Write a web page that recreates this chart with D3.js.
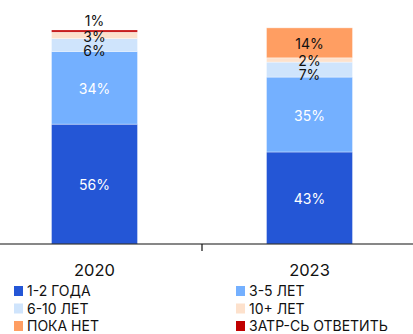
<!DOCTYPE html>
<html>
<head>
<meta charset="utf-8">
<script src="https://cdn.jsdelivr.net/npm/d3@7"></script>
<style>
  html, body { margin: 0; padding: 0; background: #fff; }
  svg { display: block; font-family: "Inter", "Noto Sans", sans-serif; }
</style>
</head>
<body>
<svg id="chart" width="413" height="334"></svg>
<script>
// Survey years and answer groups (stacked bottom to top)
const years = ["2020", "2023"];
const groups = ["1-2 ГОДА", "3-5 ЛЕТ", "6-10 ЛЕТ", "10+ ЛЕТ", "ПОКА НЕТ", "ЗАТР-СЬ ОТВЕТИТЬ"];
const values2020 = [56, 34, 6, 3, 0, 1];
const values2023 = [43, 35, 7, 2, 14, 0];
const colors = ["#2456D6", "#74B0FF", "#CFE4FC", "#FDE1CC", "#FF9E62", "#C00000"];
const labelColors = ["#fff", "#fff", "#111", "#111", "#111", "#111"];

const svg = d3.select("#chart");
const W = 413;
const axisY = 244;

const rows = years.map((yr, i) => {
  const vals = i === 0 ? values2020 : values2023;
  const r = { year: yr };
  groups.forEach((g, k) => r[g] = vals[k]);
  return r;
});

const stacked = d3.stack().keys(groups)(rows);

const x = d3.scaleBand().domain(years).range([-13, 417]).paddingInner(0.6).paddingOuter(0.3);
const y = d3.scaleLinear().domain([0, 100]).range([axisY, 30]);
const color = d3.scaleOrdinal().domain(groups).range(colors);

// Bars
svg.append("g").selectAll("g").data(stacked).join("g")
  .attr("fill", d => color(d.key))
  .selectAll("rect").data(d => d.filter(s => s[1] - s[0] > 0)).join("rect")
  .attr("x", d => x(d.data.year))
  .attr("width", x.bandwidth())
  .attr("y", d => y(d[1]))
  .attr("height", d => y(d[0]) - y(d[1]))
  .attr("stroke", "#fff")
  .attr("stroke-opacity", 0.45)
  .attr("stroke-width", 0.8);

// Value labels: laid out top-down so small segments do not collide
const labelG = svg.append("g").attr("font-size", 14).attr("text-anchor", "middle");
years.forEach(yr => {
  const segs = [];
  stacked.forEach((layer, k) => {
    const s = layer.find(d => d.data.year === yr);
    const v = s[1] - s[0];
    if (v > 0) segs.push({ k, v, top: y(s[1]), bot: y(s[0]) });
  });
  segs.reverse(); // top first
  let prev = -Infinity;
  segs.forEach((s, i) => {
    const thinTop = i === 0 && s.bot - s.top < 6;
    let cy = thinTop ? s.top - 10 : (s.top + s.bot) / 2;
    cy = Math.max(cy, prev + 14);
    prev = cy;
    labelG.append("text")
      .attr("x", x(yr) + x.bandwidth() / 2)
      .attr("y", cy + 1.5)
      .attr("dy", "0.35em")
      .attr("fill", thinTop ? "#111" : labelColors[s.k])
      .text(s.v + "%");
  });
});

// Category axis with a tick between the two years
const axisG = svg.append("g");
axisG.append("line")
  .attr("x1", 0).attr("x2", W).attr("y1", axisY).attr("y2", axisY)
  .attr("stroke", "#111").attr("stroke-width", 1.2);
const boundary = (x(years[0]) + x.bandwidth() + x(years[1])) / 2;
axisG.append("line")
  .attr("x1", boundary).attr("x2", boundary)
  .attr("y1", axisY).attr("y2", axisY + 7)
  .attr("stroke", "#111").attr("stroke-width", 1.2);
axisG.selectAll("text").data(years).join("text")
  .attr("x", d => x(d) + x.bandwidth() / 2)
  .attr("y", 270)
  .attr("dy", "0.35em")
  .attr("text-anchor", "middle")
  .attr("font-size", 16.5)
  .attr("fill", "#111")
  .text(d => d);

// Legend, two columns
const legend = svg.append("g");
const colX = [14, 236];
const rowY = [291, 308.5, 326];
groups.forEach((g, i) => {
  const gx = colX[i % 2], gy = rowY[Math.floor(i / 2)];
  legend.append("rect")
    .attr("x", gx).attr("y", gy - 5).attr("width", 9).attr("height", 10)
    .attr("fill", color(g));
  legend.append("text")
    .attr("x", gx + 13).attr("y", gy)
    .attr("dy", "0.36em")
    .attr("font-size", 14)
    .attr("fill", "#111")
    .text(g);
});
</script>
</body>
</html>
